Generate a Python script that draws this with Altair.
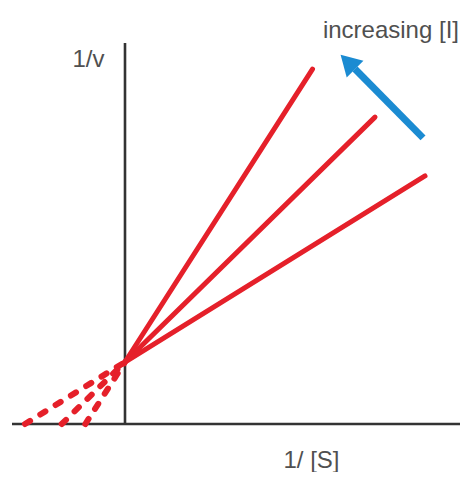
import altair as alt
import pandas as pd

# Lineweaver-Burk plot, competitive inhibition (arbitrary units)
series = ["no inhibitor", "low [I]", "high [I]"]
y_intercept = 2.0                 # 1/Vmax, common to all lines
slopes = [0.50, 0.79, 1.26]       # Km_app / Vmax
x_ends = [12.0, 10.0, 7.5]        # last plotted 1/[S]

x_domain = [-4.68, 13.40]
y_domain = [-1.548, 13.419]

axis_x_range = [-4.52, 13.44]
axis_y_top = 12.29

arrow_x = [11.92, 9.20]
arrow_y = [9.23, 11.45]
arrow_head = [9.01, 11.60]

title_text = "increasing [I]"
title_pos = [13.36, 12.45]
labels = ["1/ [S]", "1/v"]
label_x = [7.46, -1.46]
label_y = [-1.42, 11.52]
label_size = [24, 24]

RED = "#e5202a"
BLUE = "#1b8bd2"
AX = "#333333"
TXT = "#505050"

solid_rows, dash_rows = [], []
for s, m, xe in zip(series, slopes, x_ends):
    solid_rows += [{"s": s, "x": 0.0, "y": y_intercept},
                   {"s": s, "x": xe, "y": y_intercept + m * xe}]
    dash_rows += [{"s": s, "x": -y_intercept / m, "y": 0.0},
                  {"s": s, "x": 0.0, "y": y_intercept}]
solid = pd.DataFrame(solid_rows)
dashed = pd.DataFrame(dash_rows)

xs = alt.Scale(domain=x_domain, nice=False, zero=False)
ys = alt.Scale(domain=y_domain, nice=False, zero=False)
X = lambda f: alt.X(f, type="quantitative", scale=xs, axis=None)
Y = lambda f: alt.Y(f, type="quantitative", scale=ys, axis=None)

axes_df = pd.DataFrame({
    "x": [axis_x_range[0], 0.0], "x2": [axis_x_range[1], 0.0],
    "y": [0.0, 0.0], "y2": [0.0, axis_y_top],
})
axes = alt.Chart(axes_df).mark_rule(color=AX, strokeWidth=2.6).encode(
    x=X("x"), x2="x2", y=Y("y"), y2="y2")

solid_lines = alt.Chart(solid).mark_line(
    color=RED, strokeWidth=5, strokeCap="round").encode(
    x=X("x"), y=Y("y"), detail="s:N")

dashed_lines = alt.Chart(dashed).mark_line(
    color=RED, strokeWidth=6, strokeCap="round", strokeDash=[6, 12]).encode(
    x=X("x"), y=Y("y"), detail="s:N")

arrow_df = pd.DataFrame({"x": [arrow_x[0]], "x2": [arrow_x[1]],
                         "y": [arrow_y[0]], "y2": [arrow_y[1]]})
shaft = alt.Chart(arrow_df).mark_rule(
    color=BLUE, strokeWidth=7, strokeCap="butt").encode(
    x=X("x"), x2="x2", y=Y("y"), y2="y2")
head = alt.Chart(pd.DataFrame({"x": [arrow_head[0]], "y": [arrow_head[1]]})).mark_point(
    shape="triangle", filled=True, color=BLUE, opacity=1, size=560, angle=315).encode(
    x=X("x"), y=Y("y"))

text_df = pd.DataFrame({"t": labels, "x": label_x, "y": label_y, "size": label_size})
texts = alt.Chart(text_df).mark_text(
    font="Liberation Sans", color=TXT, align="center", baseline="alphabetic").encode(
    x=X("x"), y=Y("y"), text="t:N",
    size=alt.Size("size:Q", scale=None, legend=None))

title_df = pd.DataFrame({"t": [title_text], "x": [title_pos[0]], "y": [title_pos[1]]})
title = alt.Chart(title_df).mark_text(
    font="Liberation Sans", fontSize=24, color=TXT, align="right",
    baseline="alphabetic").encode(x=X("x"), y=Y("y"), text="t:N")

chart = alt.layer(axes, dashed_lines, solid_lines, shaft, head, texts, title).properties(
    width=452, height=464,
    autosize=alt.AutoSizeParams(type="none"),
    padding=0,
).configure_view(stroke=None)

chart.save("out.html", embed_options={"renderer": "svg", "actions": False})
